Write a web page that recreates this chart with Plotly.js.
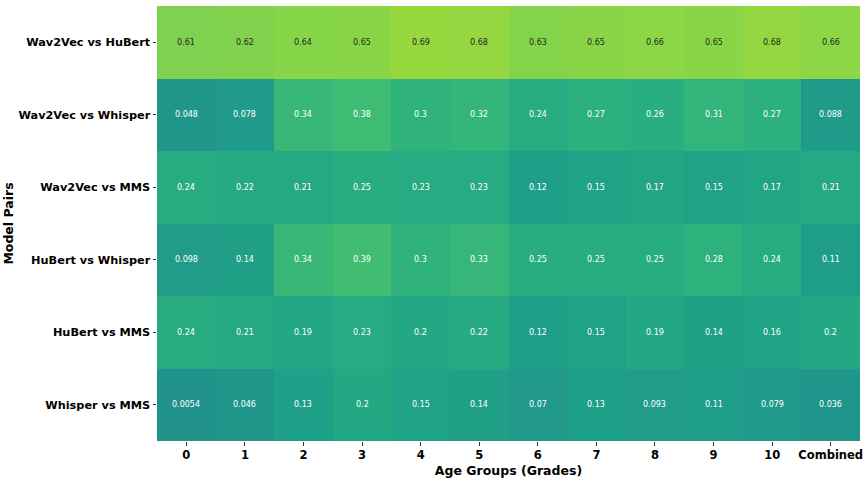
<!DOCTYPE html>
<html>
<head>
<meta charset="utf-8">
<script src="https://cdn.plot.ly/plotly-3.0.1.min.js"></script>
<style>
  html, body { margin: 0; padding: 0; background: #fff; }
  #chart { width: 867px; height: 481px; }
</style>
</head>
<body>
<div id="chart"></div>
<script>
var modelPairs = ['Wav2Vec vs HuBert', 'Wav2Vec vs Whisper', 'Wav2Vec vs MMS',
                  'HuBert vs Whisper', 'HuBert vs MMS', 'Whisper vs MMS']
var ageGroups = ['0', '1', '2', '3', '4', '5', '6', '7', '8', '9', '10', 'Combined']

var wav2vecHubert  = [0.61, 0.62, 0.64, 0.65, 0.69, 0.68, 0.63, 0.65, 0.66, 0.65, 0.68, 0.66]
var wav2vecWhisper = [0.048, 0.078, 0.34, 0.38, 0.3, 0.32, 0.24, 0.27, 0.26, 0.31, 0.27, 0.088]
var wav2vecMms     = [0.24, 0.22, 0.21, 0.25, 0.23, 0.23, 0.12, 0.15, 0.17, 0.15, 0.17, 0.21]
var hubertWhisper  = [0.098, 0.14, 0.34, 0.39, 0.3, 0.33, 0.25, 0.25, 0.25, 0.28, 0.24, 0.11]
var hubertMms      = [0.24, 0.21, 0.19, 0.23, 0.2, 0.22, 0.12, 0.15, 0.19, 0.14, 0.16, 0.2]
var whisperMms     = [0.0054, 0.046, 0.13, 0.2, 0.15, 0.14, 0.07, 0.13, 0.093, 0.11, 0.079, 0.036]

var z = [wav2vecHubert, wav2vecWhisper, wav2vecMms, hubertWhisper, hubertMms, whisperMms]

// seaborn style ".2g" labels, dark text on the light cells
var annotations = []
z.forEach(function (row, i) {
  row.forEach(function (v, j) {
    annotations.push({
      x: ageGroups[j],
      y: modelPairs[i],
      xref: 'x', yref: 'y',
      text: parseFloat(v.toPrecision(2)).toString(),
      showarrow: false,
      font: {family: 'DejaVu Sans', size: 8, color: v > 0.5 ? '#262626' : '#ffffff'}
    })
  })
})

var trace = {
  type: 'heatmap',
  x: ageGroups,
  y: modelPairs,
  z: z,
  zmin: -1,
  zmax: 1,
  colorscale: 'Viridis',
  showscale: false,
  hoverongaps: false
}

var layout = {
  width: 867,
  height: 481,
  margin: {l: 157, r: 7, t: 6, b: 40},
  paper_bgcolor: '#ffffff',
  plot_bgcolor: '#ffffff',
  font: {family: 'DejaVu Sans', color: '#000000'},
  xaxis: {
    type: 'category',
    title: {text: '<b>Age Groups (Grades)</b>', font: {size: 12.5, color: '#000'}, standoff: 4},
    tickfont: {size: 11.5, color: '#000', weight: 'bold'},
    ticks: 'outside', ticklen: 3.5, tickwidth: 1, tickcolor: '#333',
    showgrid: false, zeroline: false, showline: false
  },
  yaxis: {
    type: 'category',
    autorange: 'reversed',
    title: {text: '<b>Model Pairs</b>', font: {size: 12.5, color: '#000'}, standoff: 2},
    tickfont: {size: 11.3, color: '#000', weight: 'bold'},
    ticks: 'outside', ticklen: 3.5, tickwidth: 1, tickcolor: '#333',
    showgrid: false, zeroline: false, showline: false
  },
  annotations: annotations
}

Plotly.newPlot('chart', [trace], layout, {displayModeBar: false, staticPlot: true})
</script>
</body>
</html>
